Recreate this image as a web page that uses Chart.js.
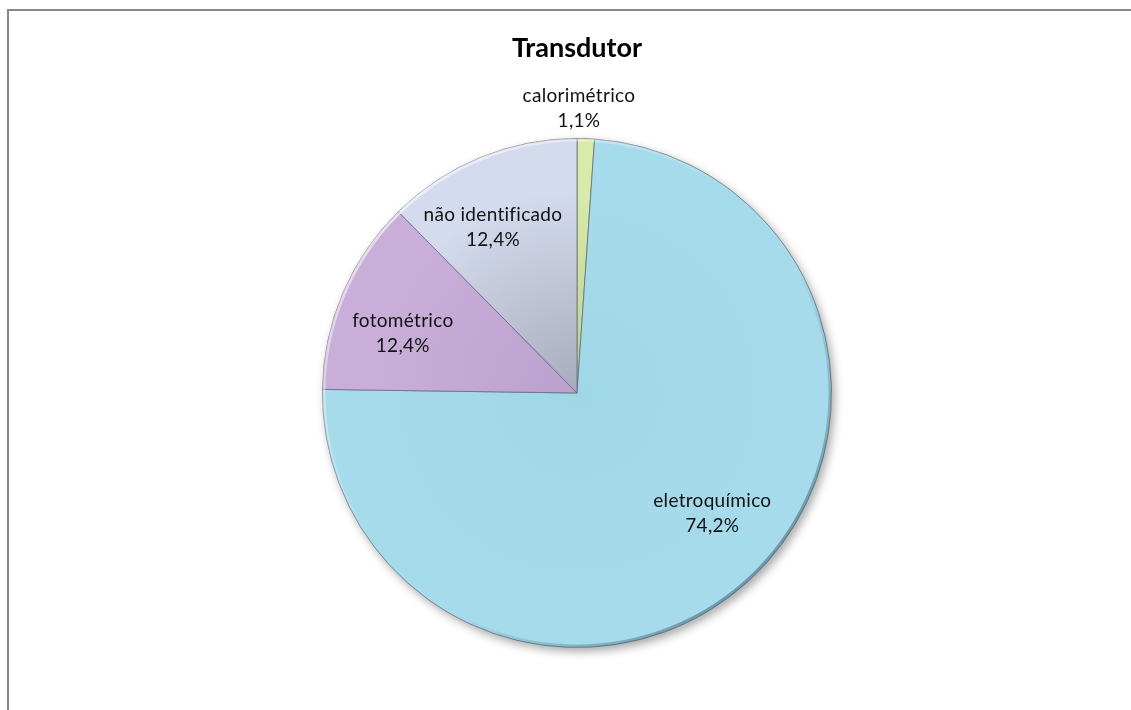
<!DOCTYPE html>
<html>
<head>
<meta charset="utf-8">
<title>Transdutor</title>
<script src="https://cdn.jsdelivr.net/npm/chart.js@4"></script>
<style>
  html, body { margin: 0; padding: 0; background: #fff; }
  #wrap { position: relative; width: 1131px; height: 710px; overflow: hidden; }
  #frame { position: absolute; left: 7px; top: 9px; width: 1200px; height: 800px;
           border-top: 2px solid #888; border-left: 2px solid #888; }
  #chart { position: absolute; left: 0; top: 0; }
</style>
</head>
<body>
<div id="wrap">
  <div id="frame"></div>
  <canvas id="chart" width="1131" height="710"></canvas>
</div>
<script>
// transducer types, share of the total (%)
const categories = ["calorimétrico", "eletroquímico", "fotométrico", "não identificado"];
const shares = [1.1, 74.2, 12.4, 12.4];

// slice fills: darker towards the centre, lighter at the rim
const innerColors = ["#bcd08a", "#a0d7e7", "#bca1ce", "#a6abbd"];
const outerColors = ["#d9eaa9", "#a6dbeb", "#c8aed8", "#d5dbee"];

const labelFont = "Lato, 'Noto Sans', sans-serif";

function sliceFill(ctx) {
  const area = ctx.chart.chartArea;
  const i = ctx.dataIndex;
  if (!area) return outerColors[i];
  const cx = (area.left + area.right) / 2;
  const cy = (area.top + area.bottom) / 2;
  const r = Math.min(area.right - area.left, area.bottom - area.top) / 2;
  const g = ctx.chart.ctx.createRadialGradient(cx, cy, 0, cx, cy, r);
  g.addColorStop(0, innerColors[i]);
  g.addColorStop(0.8, outerColors[i]);
  g.addColorStop(1, outerColors[i]);
  return g;
}

// soft drop shadow under the pie and a bevelled rim on top of it
const bevel = {
  id: "bevel",
  beforeDatasetsDraw(chart) {
    const arc = chart.getDatasetMeta(0).data[0];
    if (!arc) return;
    const { x, y, outerRadius } = arc.getProps(["x", "y", "outerRadius"], true);
    const c = chart.ctx;
    c.save();
    c.shadowColor = "rgba(0,0,0,0.35)";
    c.shadowBlur = 10;
    c.shadowOffsetX = 3;
    c.shadowOffsetY = 4;
    c.fillStyle = "#a6dbeb";
    c.beginPath();
    c.arc(x, y, outerRadius, 0, Math.PI * 2);
    c.fill();
    c.restore();
  },
  afterDatasetsDraw(chart) {
    const arc = chart.getDatasetMeta(0).data[0];
    if (!arc) return;
    const { x, y, outerRadius } = arc.getProps(["x", "y", "outerRadius"], true);
    const c = chart.ctx;
    const g = c.createLinearGradient(x - outerRadius, y - outerRadius, x + outerRadius, y + outerRadius);
    g.addColorStop(0, "rgba(255,255,255,0.85)");
    g.addColorStop(0.45, "rgba(255,255,255,0)");
    g.addColorStop(0.6, "rgba(40,70,90,0)");
    g.addColorStop(1, "rgba(40,70,90,0.7)");
    c.save();
    c.strokeStyle = g;
    c.lineWidth = 3;
    c.beginPath();
    c.arc(x, y, outerRadius - 1.5, 0, Math.PI * 2);
    c.stroke();
    c.restore();
  }
};

// two-line labels: name and percentage
const sliceLabels = {
  id: "sliceLabels",
  afterDatasetsDraw(chart) {
    const c = chart.ctx;
    const shift = -5 * Math.PI / 180;
    chart.getDatasetMeta(0).data.forEach((arc, i) => {
      const p = arc.getProps(["x", "y", "startAngle", "endAngle", "outerRadius"], true);
      const mid = (p.startAngle + p.endAngle) / 2;
      let lx, ly;
      if (shares[i] < 5) {
        const r = p.outerRadius + 30;
        lx = p.x + r * Math.cos(mid) * 0.2;
        ly = p.y + r * Math.sin(mid);
      } else {
        const r = p.outerRadius * 0.72;
        lx = p.x + r * Math.cos(mid + shift);
        ly = p.y + r * Math.sin(mid + shift) - 3;
      }
      c.save();
      c.fillStyle = "#111";
      c.font = "19px " + labelFont;
      c.letterSpacing = "0.3px";
      c.textAlign = "center";
      c.textBaseline = "middle";
      c.fillText(categories[i], lx, ly - 12.5);
      c.fillText(shares[i].toFixed(1).replace(".", ",") + "%", lx, ly + 12.5);
      c.restore();
    });
  }
};

new Chart(document.getElementById("chart"), {
  type: "pie",
  data: {
    labels: categories,
    datasets: [{
      data: shares,
      backgroundColor: sliceFill,
      borderColor: "rgba(100,105,115,0.75)",
      borderWidth: 1
    }]
  },
  options: {
    responsive: false,
    animation: false,
    layout: { padding: { left: 23, right: 0, top: 0, bottom: 62 } },
    plugins: {
      legend: { display: false },
      tooltip: { enabled: false },
      title: {
        display: true,
        text: "Transdutor",
        color: "#000",
        font: { family: labelFont, size: 27, weight: "bold" },
        padding: { top: 32, bottom: 73.6 }
      }
    }
  },
  plugins: [bevel, sliceLabels]
});
</script>
</body>
</html>
